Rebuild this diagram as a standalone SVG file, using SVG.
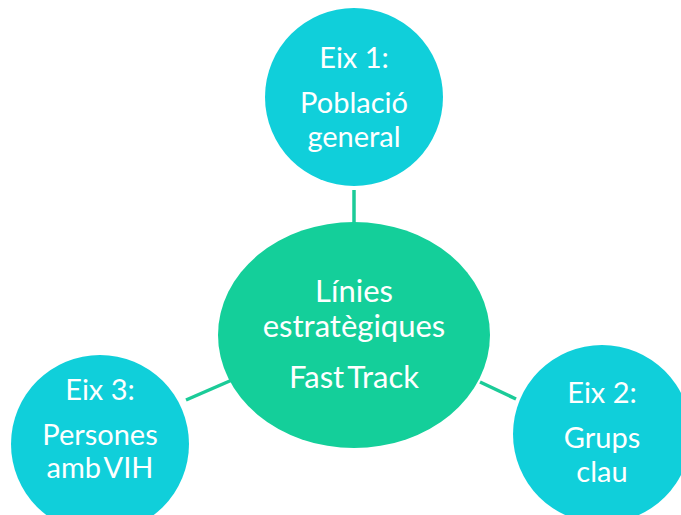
<svg xmlns="http://www.w3.org/2000/svg" width="681" height="515" viewBox="0 0 681 515">
<style>
.c{fill:#10CFDA}
.m{fill:#14CF9A}
.e{stroke:#1BCB98;stroke-width:3.5;fill:none}
text{font-family:Lato,"Open Sans","Liberation Sans",sans-serif;font-size:29px;fill:#FFFFFF;text-anchor:middle}
text.big{font-size:31px}
</style>
<rect width="681" height="515" fill="#FFFFFF"/>
<g id="connectors">
<line class="e" x1="354" y1="190" x2="354" y2="224"/>
<line class="e" x1="186" y1="400" x2="232" y2="380"/>
<line class="e" x1="480" y1="382" x2="516" y2="399"/>
</g>
<g id="eix1">
<circle class="c" cx="354" cy="97" r="89"/>
<text x="354" y="68">Eix 1:</text>
<text x="354" y="113">Població</text>
<text x="354" y="147">general</text>
</g>
<g id="center">
<ellipse class="m" cx="354" cy="335" rx="136" ry="113"/>
<text class="big" x="354" y="302">Línies</text>
<text class="big" x="354" y="337">estratègiques</text>
<text class="big" x="354" y="388" word-spacing="-4">Fast Track</text>
</g>
<g id="eix3">
<circle class="c" cx="100" cy="444" r="89"/>
<text x="100" y="400">Eix 3:</text>
<text x="100" y="445">Persones</text>
<text x="100" y="478" word-spacing="-4">amb VIH</text>
</g>
<g id="eix2">
<circle class="c" cx="602" cy="434" r="89"/>
<text x="602" y="403">Eix 2:</text>
<text x="602" y="448">Grups</text>
<text x="602" y="482">clau</text>
</g>
</svg>
